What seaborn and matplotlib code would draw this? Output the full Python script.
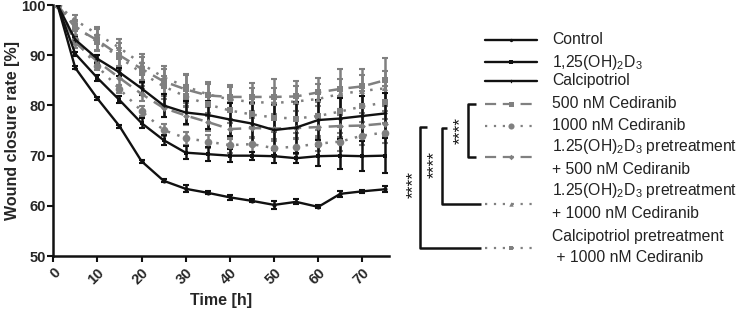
import matplotlib
matplotlib.use("Agg")
import matplotlib.pyplot as plt
import seaborn as sns
import numpy as np
import pandas as pd

sns.set_theme(style="ticks")
plt.rcParams['font.family'] = ['Liberation Sans', 'DejaVu Sans']
plt.rcParams['mathtext.fontset'] = 'custom'
plt.rcParams['mathtext.rm'] = 'Liberation Sans'
plt.rcParams['mathtext.it'] = 'Liberation Sans'
plt.rcParams['mathtext.bf'] = 'Liberation Sans:bold'

# ---------------- data ----------------
time_h = [1, 5, 10, 15, 20, 25, 30, 35, 40, 45, 50, 55, 60, 65, 70, 75]

control = [100, 87.5, 81.4, 75.9, 68.9, 65.0, 63.4, 62.6, 61.7, 61.0, 60.2, 60.8, 59.8, 62.4, 62.9, 63.3]
control_err = [0, 0.3, 0.3, 0.3, 0.3, 0.3, 0.7, 0.3, 0.5, 0.3, 0.8, 0.5, 0.3, 0.6, 0.3, 0.6]

vitd3 = [100, 90.3, 85.5, 81.1, 76.5, 73.1, 70.6, 70.3, 70.0, 70.0, 69.9, 69.5, 69.9, 70.0, 69.9, 70.0]
vitd3_err = [0, 0.4, 0.6, 0.7, 1.0, 1.0, 1.3, 1.4, 1.3, 0.8, 1.3, 1.0, 2.0, 2.6, 3.0, 3.5]

calcipotriol = [100, 93.1, 89.3, 86.6, 83.4, 80.0, 78.6, 78.1, 77.2, 76.4, 75.1, 75.6, 77.1, 77.4, 77.9, 78.4]
calcipotriol_err = [0, 0.5, 0.8, 0.8, 1.3, 2.2, 2.3, 2.8, 3.3, 4.0, 5.0, 5.0, 4.0, 4.0, 4.0, 4.0]

ced500 = [100, 95.5, 93.0, 90.0, 87.3, 84.8, 83.2, 82.0, 81.7, 81.7, 81.7, 81.8, 82.6, 83.3, 83.8, 85.0]
ced500_err = [0, 1.5, 2.2, 2.5, 2.3, 2.5, 2.8, 2.2, 2.3, 2.8, 3.5, 3.0, 2.8, 4.0, 3.5, 4.5]

ced1000 = [100, 93.0, 87.8, 83.3, 78.9, 75.1, 73.5, 72.8, 72.1, 72.3, 71.5, 71.8, 72.4, 72.8, 74.0, 74.6]
ced1000_err = [0, 0.8, 0.8, 0.8, 1.0, 1.2, 1.3, 1.3, 1.5, 1.5, 1.5, 1.5, 1.5, 1.8, 1.8, 2.0]

d3_pre_500 = [100, 92.5, 88.8, 85.5, 82.3, 79.5, 78.0, 76.7, 75.3, 75.5, 75.4, 75.5, 75.7, 75.9, 76.0, 76.4]
d3_pre_500_err = [0, 1.0, 1.2, 1.5, 1.5, 1.8, 1.8, 1.8, 2.0, 2.0, 2.0, 2.0, 2.2, 2.2, 2.5, 2.5]

d3_pre_1000 = [100, 97.0, 94.2, 91.5, 88.3, 85.6, 83.8, 82.2, 81.2, 80.7, 80.5, 80.8, 81.3, 82.3, 82.9, 83.4]
d3_pre_1000_err = [0, 1.0, 1.5, 1.8, 2.0, 2.2, 2.5, 2.5, 2.5, 2.8, 3.0, 3.0, 3.0, 3.0, 3.2, 3.5]

calci_pre_1000 = [100, 95.8, 92.6, 89.6, 86.5, 83.8, 81.8, 80.2, 79.0, 78.2, 77.6, 77.4, 77.9, 78.8, 79.8, 80.6]
calci_pre_1000_err = [0, 1.0, 1.5, 1.8, 2.0, 2.0, 2.2, 2.2, 2.5, 2.5, 2.8, 2.8, 2.8, 3.0, 3.0, 3.2]

x_ticks = [0, 10, 20, 30, 40, 50, 60, 70]
y_ticks = [50, 60, 70, 80, 90, 100]

BLACK = "#111111"
GRAY = "#808080"

series = [
    # label, values, err, color, linestyle, marker, markersize
    ("Control", control, control_err, BLACK, "-", "o", 3),
    ("1,25(OH)$_2$D$_3$", vitd3, vitd3_err, BLACK, "-", "s", 3.5),
    ("Calcipotriol", calcipotriol, calcipotriol_err, BLACK, "-", "P", 3),
    ("500 nM Cediranib", ced500, ced500_err, GRAY, (0, (5, 3)), "s", 4.5),
    ("1000 nM Cediranib", ced1000, ced1000_err, GRAY, (0, (1, 3)), "o", 5.5),
    ("d3pre500", d3_pre_500, d3_pre_500_err, GRAY, (0, (5, 3)), "D", 3.5),
    ("d3pre1000", d3_pre_1000, d3_pre_1000_err, GRAY, (0, (1, 3)), "^", 4),
    ("calcipre1000", calci_pre_1000, calci_pre_1000_err, GRAY, (0, (1, 3)), "s", 4),
]

fig = plt.figure(figsize=(7.38, 3.15), dpi=100)
ax = fig.add_axes([0.072, 0.187, 0.455, 0.797])

# draw in reverse so black lines are on top
for label, vals, err, col, ls, mk, ms in series[::-1]:
    df = pd.DataFrame({"t": time_h, "v": vals})
    ax.errorbar(time_h, vals, yerr=err, fmt="none", ecolor=col,
                elinewidth=1.8, capsize=2.5, capthick=1.5, zorder=2)
    sns.lineplot(data=df, x="t", y="v", ax=ax, color=col, linestyle=ls,
                 linewidth=1.7 if col == BLACK else 1.8,
                 marker=mk, markersize=ms, markeredgewidth=0,
                 markerfacecolor=col, zorder=3)

ax.set_xlim(0, 76)
ax.set_ylim(50, 100)
ax.set_xticks(x_ticks)
ax.set_yticks(y_ticks)
ax.set_xticklabels([str(v) for v in x_ticks], rotation=45, fontweight="bold",
                   fontsize=10.5, ha="right", va="top", rotation_mode="anchor")
ax.set_yticklabels([str(v) for v in y_ticks], fontweight="bold", fontsize=10.5)
ax.set_xlabel("Time [h]", fontweight="bold", fontsize=11.5, labelpad=4)
ax.set_ylabel("Wound closure rate [%]", fontweight="bold", fontsize=11.5, labelpad=1)
for s in ["top", "right"]:
    ax.spines[s].set_visible(False)
for s in ["left", "bottom"]:
    ax.spines[s].set_linewidth(1.8)
    ax.spines[s].set_color(BLACK)
ax.tick_params(axis="both", width=1.5, length=4, color=BLACK, pad=1.5)
ax.tick_params(axis="x", pad=3)

# ---------------- custom legend in pixel coords ----------------
lax = fig.add_axes([0, 0, 1, 1], zorder=-1)
lax.set_xlim(0, 738)
lax.set_ylim(315, 0)
lax.axis("off")

legend_rows = [
    (40, ["Control"], [40]),
    (62, ["1,25(OH)$_2$D$_3$"], [62]),
    (81, ["Calcipotriol"], [81]),
    (104, ["500 nM Cediranib"], [104]),
    (126, ["1000 nM Cediranib"], [126]),
    (157, ["1.25(OH)$_2$D$_3$ pretreatment", "+ 500 nM Cediranib"], [147, 169]),
    (204, ["1.25(OH)$_2$D$_3$ pretreatment", "+ 1000 nM Cediranib"], [191, 213]),
    (248, ["Calcipotriol pretreatment", " + 1000 nM Cediranib"], [236, 257]),
]
for (label, vals, err, col, ls, mk, ms), (hy, texts, tys) in zip(series, legend_rows):
    lax.plot([485, 537], [hy, hy], color=col, linestyle=ls,
             linewidth=1.7 if col == BLACK else 1.6)
    lax.plot([511], [hy], color=col, marker=mk, markersize=ms * 0.8,
             markeredgewidth=0)
    for txt, ty in zip(texts, tys):
        lax.text(552, ty, txt, fontsize=11.3, va="center", ha="left",
                 color="#222222")

# significance brackets
br = dict(color=BLACK, linewidth=1.8, solid_capstyle="butt")
lax.plot([476, 468, 468, 476], [104, 104, 157, 157], **br)
lax.plot([447, 442, 442, 481], [128, 128, 204, 204], **br)
lax.plot([427, 420, 420, 481], [127, 127, 248, 248], **br)
for x, y in [(460, 130), (434, 164), (413, 184)]:
    lax.text(x, y, "****", rotation=90, fontsize=12.5,
             ha="center", va="center", color=BLACK)

fig.savefig("out.png", dpi=100)
